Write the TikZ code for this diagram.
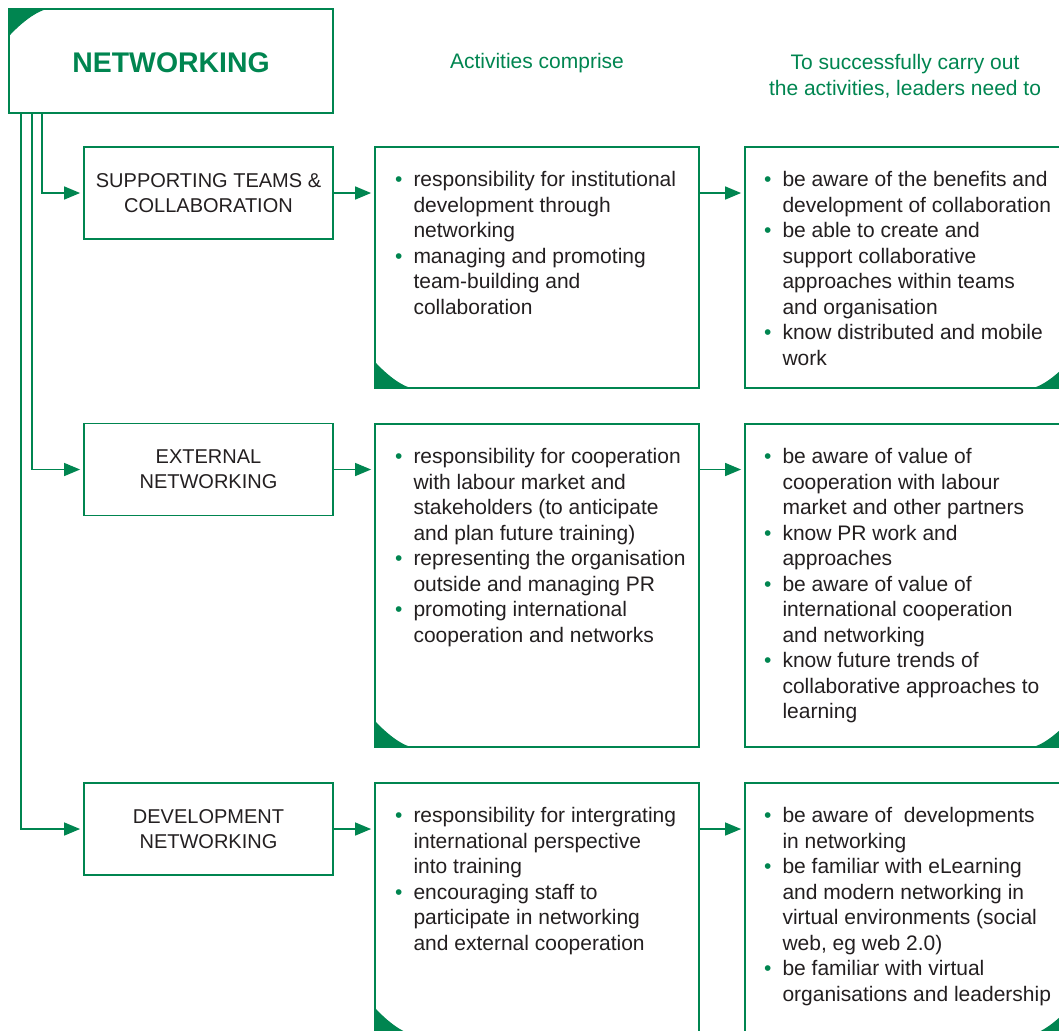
\documentclass[tikz,border=0pt]{standalone}
\usepackage{fontspec}
\setmainfont{Liberation Sans}
\usepackage{tikz}
\usetikzlibrary{arrows.meta, positioning}
\definecolor{netgreen}{RGB}{0,133,80}
\definecolor{ink}{RGB}{35,31,32}
\tikzstyle{box}=[draw=netgreen, line width=0.9pt, inner sep=0pt, minimum width=162pt]
\tikzstyle{area}=[box, minimum width=124.5pt, minimum height=46pt, text=ink, font=\fontsize{10}{12.5}\selectfont, align=center]
\tikzstyle{txt}=[inner sep=0pt, text=ink, font=\fontsize{10.5}{12.75}\selectfont, align=left]
\tikzstyle{hd}=[inner sep=0pt, text=netgreen, font=\fontsize{10.5}{13}\selectfont, align=center]
\tikzstyle{link}=[draw=netgreen, line width=0.75pt, -{Triangle[length=8pt,width=6.5pt]}, shorten >=1.5pt]
\newcommand{\bl}{\llap{\textcolor{netgreen}{\textbullet}\hspace{5.5pt}}}
\newcommand{\nwcorner}[1]{\fill[netgreen, shift={(#1.north west)}] (0,0) -- (0,29) .. controls (9,19) and (28,1) .. (44,0) -- cycle;}
\newcommand{\swcorner}[1]{\fill[netgreen, shift={(#1.south west)}] (0,0) -- (0,-28) .. controls (9,-18) and (27,-1) .. (42,0) -- cycle;}
\newcommand{\secorner}[1]{\fill[netgreen, shift={(#1.south east)}] (0,0) -- (0,-28) .. controls (-9,-18) and (-27,-1) .. (-42,0) -- cycle;}

\begin{document}
\begin{tikzpicture}[x=0.5pt, y=-0.5pt]
    \useasboundingbox (0,0) rectangle (1059,1030);
    \node[box, minimum height=52pt, text=netgreen, font=\fontsize{14.2}{16}\selectfont\bfseries] (title) at (171,61) {};
    \node[text=netgreen, inner sep=0pt, font=\fontsize{14.2}{16}\selectfont\bfseries] (titletxt) at (171,63) {NETWORKING};
    \nwcorner{title}
    \node[hd] (hact) at (537,63) {Activities comprise};
    \node[hd] (hneed) at (905,76) {To successfully carry out\\the activities, leaders need to};

    \node[area] (sup) at (208.5,193) {SUPPORTING TEAMS \&\\COLLABORATION};
    \node[area] (ext) at (208.5,469.5) {EXTERNAL\\NETWORKING};
    \node[area] (dev) at (208.5,829) {DEVELOPMENT\\NETWORKING};

    \node[box, minimum height=120.5pt] (act1) at (537,267.5) {};
    \node[box, minimum height=161.5pt] (act2) at (537,585.5) {};
    \node[box, minimum height=125.5pt] (act3) at (537,908.5) {};
    \node[box, minimum height=120.5pt] (need1) at (907,267.5) {};
    \node[box, minimum height=161.5pt] (need2) at (907,585.5) {};
    \node[box, minimum height=125.5pt] (need3) at (907,908.5) {};
    \swcorner{act1} \swcorner{act2} \swcorner{act3}
    \secorner{need1} \secorner{need2} \secorner{need3}

    \node[txt, below right=12.5pt and 19.5pt of act1.north west] (acttxt1) {\bl responsibility for institutional\\development through\\networking\\\bl managing and promoting\\team-building and\\collaboration};
    \node[txt, below right=12.5pt and 19pt of need1.north west] (needtxt1) {\bl be aware of the benefits and\\development of collaboration\\\bl be able to create and\\support collaborative\\approaches within teams\\and organisation\\\bl know distributed and mobile\\work};
    \node[txt, below right=12.5pt and 19.5pt of act2.north west] (acttxt2) {\bl responsibility for cooperation\\with labour market and\\stakeholders (to anticipate\\and plan future training)\\\bl representing the organisation\\outside and managing PR\\\bl promoting international\\cooperation and networks};
    \node[txt, below right=12.5pt and 19pt of need2.north west] (needtxt2) {\bl be aware of value of\\cooperation with labour\\market and other partners\\\bl know PR work and\\approaches\\\bl be aware of value of\\international cooperation\\and networking\\\bl know future trends of\\collaborative approaches to\\learning};
    \node[txt, below right=12.5pt and 19.5pt of act3.north west] (acttxt3) {\bl responsibility for intergrating\\international perspective\\into training\\\bl encouraging staff to\\participate in networking\\and external cooperation};
    \node[txt, below right=12.5pt and 19pt of need3.north west] (needtxt3) {\bl be aware of\ \ developments\\in networking\\\bl be familiar with eLearning\\and modern networking in\\virtual environments (social\\web, eg web 2.0)\\\bl be familiar with virtual\\organisations and leadership};

    \draw[link] ([xshift=17pt]title.south west) |- (sup.west);
    \draw[link] ([xshift=12pt]title.south west) |- (ext.west);
    \draw[link] ([xshift=6.5pt]title.south west) |- (dev.west);
    \draw[link] (sup.east) -- (sup.east -| act1.west);
    \draw[link] (ext.east) -- (ext.east -| act2.west);
    \draw[link] (dev.east) -- (dev.east -| act3.west);
    \draw[link] (sup.east -| act1.east) -- (sup.east -| need1.west);
    \draw[link] (ext.east -| act2.east) -- (ext.east -| need2.west);
    \draw[link] (dev.east -| act3.east) -- (dev.east -| need3.west);
\end{tikzpicture}
\end{document}
